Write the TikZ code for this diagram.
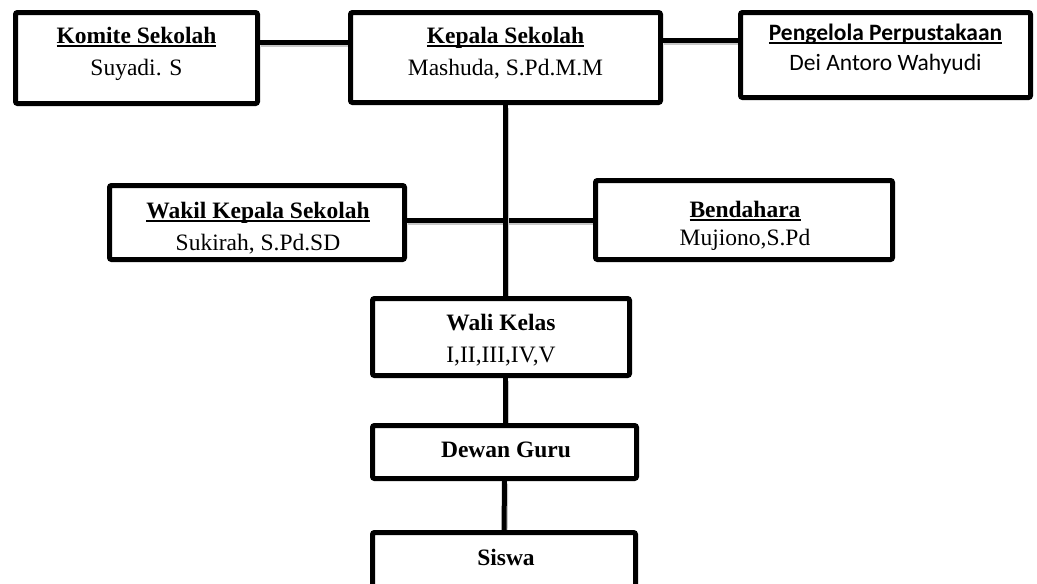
\documentclass[tikz,border=0pt]{standalone}
\usepackage{fontspec}
\usetikzlibrary{backgrounds}
\setmainfont{Liberation Serif}
\newfontfamily\calib{Carlito}
\newcommand\myul[1]{\setbox0\hbox{#1}\rlap{\rule[-4pt]{\wd0}{1.6pt}}\box0}
\tikzset{
  box/.style={draw=black, line width=5pt, rounded corners=2pt, fill=white, inner sep=0pt},
  txt/.style={anchor=base, align=center, inner sep=0pt, font=\fontsize{23.5}{32}\selectfont},
  conn/.style={line width=5pt, preaction={draw=black!22, line width=5pt, transform canvas={shift={(1.2pt,-2.5pt)}}}}
}
\begin{document}
\begin{tikzpicture}[x=1pt,y=-1pt]
\useasboundingbox (0,0) rectangle (1037,584);
\clip (0,0) rectangle (1037,584);
% boxes
\node[box, minimum width=242pt, minimum height=91pt] (komite) at (136.5,58) {};
\node[box, minimum width=310pt, minimum height=90pt] (kepala) at (505.5,57.5) {};
\node[box, minimum width=290pt, minimum height=85pt] (pengelola) at (885.5,55) {};
\node[box, minimum width=295pt, minimum height=74pt] (wakil) at (257,222.5) {};
\node[box, minimum width=297pt, minimum height=79pt] (bendahara) at (744,220) {};
\node[box, minimum width=257pt, minimum height=77pt] (wali) at (501,337) {};
\node[box, minimum width=264pt, minimum height=53pt] (dewan) at (504.5,452) {};
\node[box, minimum width=263pt, minimum height=107pt] (siswa) at (504,586) {};
% connectors
\begin{pgfonlayer}{background}
\draw[conn] (komite.east |- 0,42) -- (kepala.west |- 0,42);
\draw[conn] (kepala.east |- 0,40) -- (pengelola.west |- 0,40);
\draw[conn] (wakil.east |- 0,220) -- (bendahara.west |- 0,220);
\draw[conn] (kepala.south) -- (kepala.south |- wali.north);
\draw[conn] (kepala.south |- wali.south) -- (kepala.south |- dewan.north);
\draw[conn] (dewan.south) -- (siswa.north);
\end{pgfonlayer}
% texts (anchored at the baseline of the last line)
\node[txt] (komiteT) at (136.5,75) {\myul{\bfseries Komite Sekolah}\\Suyadi. S};
\node[txt] (kepalaT) at (505.5,75) {\myul{\bfseries Kepala Sekolah}\\Mashuda, S.Pd.M.M};
\node[txt, font=\calib\fontsize{23.5}{30}\selectfont] (pengelolaT) at (885.5,70) {\myul{\bfseries Pengelola Perpustakaan}\\Dei Antoro Wahyudi};
\node[txt] (wakilT) at (258,250) {\myul{\bfseries Wakil Kepala Sekolah}\\Sukirah, S.Pd.SD};
\node[txt, font=\fontsize{23.5}{28}\selectfont] (bendaharaT) at (745,245) {\myul{\bfseries Bendahara}\\Mujiono,S.Pd};
\node[txt] (waliT) at (501,362) {\bfseries Wali Kelas\\I,II,III,IV,V};
\node[txt, font=\bfseries\fontsize{23.5}{32}\selectfont] (dewanT) at (506,457) {Dewan Guru};
\node[txt, font=\bfseries\fontsize{23.5}{32}\selectfont] (siswaT) at (506,565) {Siswa};
\end{tikzpicture}
\end{document}
